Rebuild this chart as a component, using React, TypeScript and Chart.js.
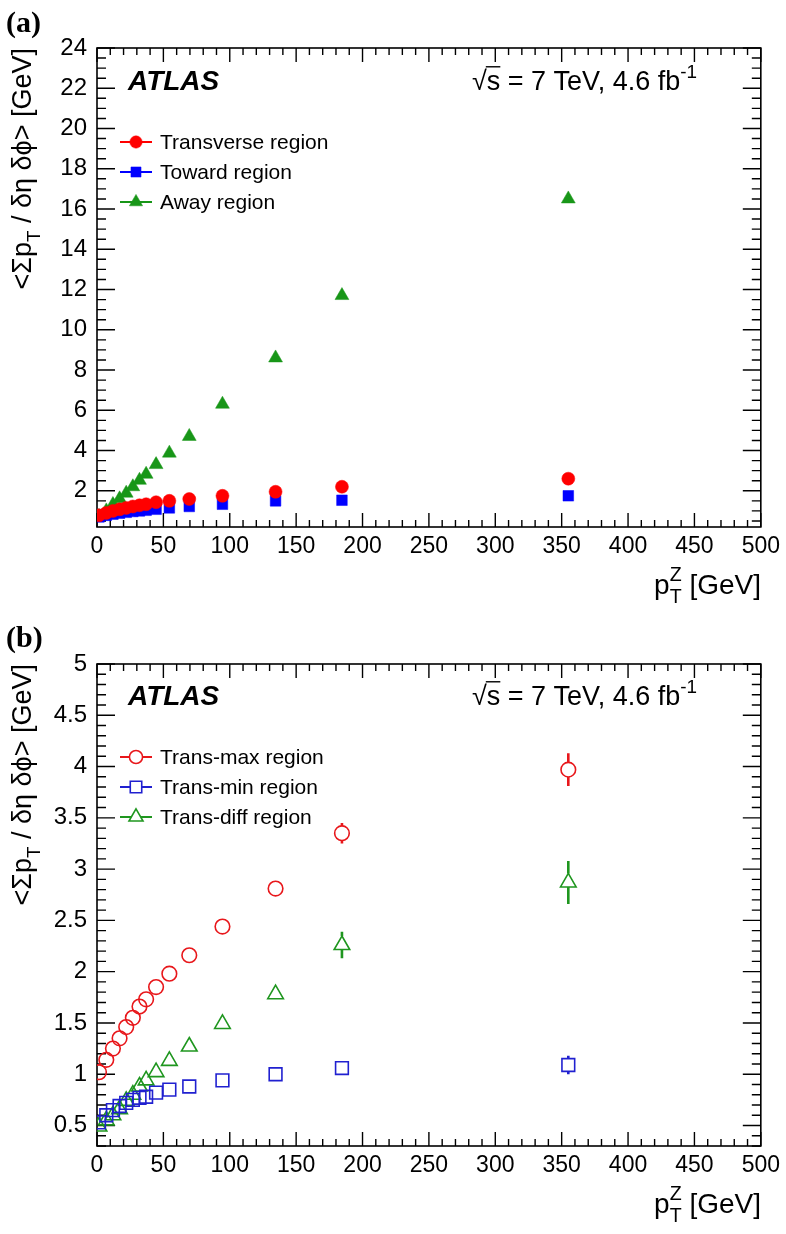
import React, { useEffect, useRef } from "react";
import { Chart, registerables } from "chart.js";
Chart.register(...registerables);

// ---------- data ----------
const pTZ = [1.5, 7, 12, 17, 22, 27, 32, 37, 44.5, 54.5, 69.5, 94.5, 134.5, 184.5, 355];

// panel (a)
const transverse = [0.78, 0.9, 1.0, 1.08, 1.15, 1.22, 1.28, 1.33, 1.43, 1.5, 1.59, 1.75, 1.95, 2.2, 2.6];
const toward = [0.7, 0.78, 0.84, 0.89, 0.93, 0.97, 1.0, 1.03, 1.08, 1.15, 1.22, 1.33, 1.5, 1.53, 1.75];
const away = [0.72, 1.0, 1.32, 1.6, 1.88, 2.2, 2.52, 2.82, 3.3, 3.87, 4.7, 6.3, 8.6, 11.7, 16.5];

// panel (b)
const transMax = [1.02, 1.14, 1.25, 1.35, 1.46, 1.55, 1.66, 1.73, 1.85, 1.98, 2.16, 2.44, 2.81, 3.35, 3.97];
const transMaxErr = [0, 0, 0, 0, 0, 0, 0, 0, 0, 0, 0, 0, 0.02, 0.1, 0.16];
const transMin = [0.53, 0.6, 0.65, 0.69, 0.72, 0.75, 0.77, 0.78, 0.82, 0.85, 0.88, 0.94, 1.0, 1.06, 1.09];
const transMinErr = [0, 0, 0, 0, 0, 0, 0, 0, 0, 0, 0, 0, 0.01, 0.03, 0.09];
const transDiff = [0.49, 0.55, 0.6, 0.66, 0.74, 0.8, 0.88, 0.94, 1.02, 1.13, 1.27, 1.49, 1.78, 2.26, 2.87];
const transDiffErr = [0, 0, 0, 0, 0, 0, 0, 0, 0, 0, 0, 0, 0.03, 0.13, 0.21];

// ticks
const xTickValues = [0, 50, 100, 150, 200, 250, 300, 350, 400, 450, 500];
const yTicksA = [2, 4, 6, 8, 10, 12, 14, 16, 18, 20, 22, 24];
const yTicksB = [0.5, 1, 1.5, 2, 2.5, 3, 3.5, 4, 4.5, 5];

const FONT = "'Liberation Sans', Arial, Helvetica, sans-serif";
const RED = "#ff0000";
const BLUE = "#0000ff";
const GREEN = "#189618";
const RED_O = "#e8171b";
const BLUE_O = "#2020d0";
const GREEN_O = "#1f961f";

type Seg = { t?: string; sub?: string; sup?: string; over?: boolean };

function segWidth(ctx: CanvasRenderingContext2D, segs: Seg[], size: number, style = "") {
  let w = 0;
  for (const s of segs) {
    if (s.t) {
      ctx.font = `${style}${size}px ${FONT}`;
      w += ctx.measureText(s.t).width;
    }
    if (s.sub || s.sup) {
      ctx.font = `${style}${size * 0.7}px ${FONT}`;
      w += Math.max(s.sub ? ctx.measureText(s.sub).width : 0, s.sup ? ctx.measureText(s.sup).width : 0);
    }
  }
  return w;
}

function drawSegs(ctx: CanvasRenderingContext2D, segs: Seg[], x: number, y: number, size: number, style = "") {
  let cx = x;
  ctx.textBaseline = "alphabetic";
  ctx.textAlign = "left";
  for (const s of segs) {
    if (s.t) {
      ctx.font = `${style}${size}px ${FONT}`;
      const w = ctx.measureText(s.t).width;
      ctx.fillText(s.t, cx, y);
      if (s.over) {
        ctx.save();
        ctx.lineWidth = 1.4;
        ctx.beginPath();
        ctx.moveTo(cx - 1, y - size * 0.86);
        ctx.lineTo(cx + w, y - size * 0.86);
        ctx.stroke();
        ctx.restore();
      }
      cx += w;
    }
    if (s.sub || s.sup) {
      const small = size * 0.7;
      ctx.font = `${style}${small}px ${FONT}`;
      let w = 0;
      if (s.sub) {
        ctx.fillText(s.sub, cx, y + size * 0.32);
        w = Math.max(w, ctx.measureText(s.sub).width);
      }
      if (s.sup) {
        ctx.fillText(s.sup, cx, y - size * 0.45);
        w = Math.max(w, ctx.measureText(s.sup).width);
      }
      cx += w;
    }
  }
}

function drawMarker(
  ctx: CanvasRenderingContext2D,
  style: string,
  x: number,
  y: number,
  r: number,
  fill: string | null,
  stroke: string,
  lw: number
) {
  ctx.beginPath();
  if (style === "circle") ctx.arc(x, y, r, 0, Math.PI * 2);
  else if (style === "rect") {
    const s = r * Math.SQRT1_2;
    ctx.rect(x - s, y - s, 2 * s, 2 * s);
  } else {
    const a = (2 * Math.PI) / 3;
    ctx.moveTo(x, y - r);
    ctx.lineTo(x + r * Math.sin(a), y - r * Math.cos(a));
    ctx.lineTo(x + r * Math.sin(2 * a), y - r * Math.cos(2 * a));
    ctx.closePath();
  }
  if (fill) {
    ctx.fillStyle = fill;
    ctx.fill();
  }
  ctx.lineWidth = lw;
  ctx.strokeStyle = stroke;
  ctx.stroke();
}

interface Series {
  label: string;
  values: number[];
  errors?: number[];
  style: string;
  r: number;
  filled: boolean;
  color: string;
}

interface Panel {
  tag: string;
  padTop: number;
  xAxisH: number;
  yMin: number;
  yMax: number;
  yTicks: number[];
  yMinor: number;
  yMajor: number;
  legendY: number[];
  textY: number;
  xTitleY: number;
  series: Series[];
}

const panelA: Panel = {
  tag: "(a)",
  padTop: 48,
  xAxisH: 90,
  yMin: 0.2,
  yMax: 24,
  yTicks: yTicksA,
  yMinor: 0.5,
  yMajor: 2,
  legendY: [142, 172, 202],
  textY: 90,
  xTitleY: 594,
  series: [
    { label: "Transverse region", values: transverse, style: "circle", r: 6.5, filled: true, color: RED },
    { label: "Toward region", values: toward, style: "rect", r: 7.5, filled: true, color: BLUE },
    { label: "Away region", values: away, style: "triangle", r: 8, filled: true, color: GREEN },
  ],
};

const panelB: Panel = {
  tag: "(b)",
  padTop: 47,
  xAxisH: 88,
  yMin: 0.3,
  yMax: 5,
  yTicks: yTicksB,
  yMinor: 0.1,
  yMajor: 0.5,
  legendY: [140, 170, 200],
  textY: 88,
  xTitleY: 596,
  series: [
    { label: "Trans-max region", values: transMax, errors: transMaxErr, style: "circle", r: 7.3, filled: false, color: RED_O },
    { label: "Trans-min region", values: transMin, errors: transMinErr, style: "rect", r: 9, filled: false, color: BLUE_O },
    { label: "Trans-diff region", values: transDiff, errors: transDiffErr, style: "triangle", r: 9, filled: false, color: GREEN_O },
  ],
};

function makeChart(canvas: HTMLCanvasElement, cfg: Panel) {
  const framePlugin = {
    id: "frameTicks",
    beforeDatasetsDraw(chart: any) {
      const { ctx, chartArea } = chart;
      const { left, right, top, bottom } = chartArea;
      const xs = chart.scales.x;
      const ys = chart.scales.y;
      ctx.save();
      ctx.strokeStyle = "#000";
      ctx.lineWidth = 1.6;
      ctx.strokeRect(left, top, right - left, bottom - top);
      ctx.lineWidth = 1.4;
      ctx.beginPath();
      for (let k = 0; k <= 50; k++) {
        const v = k * 10;
        const px = xs.getPixelForValue(v);
        const len = v % 50 === 0 ? 14 : 7;
        ctx.moveTo(px, bottom);
        ctx.lineTo(px, bottom - len);
        ctx.moveTo(px, top);
        ctx.lineTo(px, top + len);
      }
      const kStart = Math.ceil(cfg.yMin / cfg.yMinor - 1e-6);
      const kEnd = Math.floor(cfg.yMax / cfg.yMinor + 1e-6);
      for (let k = kStart; k <= kEnd; k++) {
        const v = k * cfg.yMinor;
        const ratio = v / cfg.yMajor;
        const major = Math.abs(ratio - Math.round(ratio)) < 1e-6;
        const py = ys.getPixelForValue(v);
        const len = major ? 18 : 9;
        ctx.moveTo(left, py);
        ctx.lineTo(left + len, py);
        ctx.moveTo(right, py);
        ctx.lineTo(right - len, py);
      }
      ctx.stroke();
      ctx.restore();
    },
  };

  const errorPlugin = {
    id: "errorBars",
    afterDatasetsDraw(chart: any) {
      const { ctx } = chart;
      const ys = chart.scales.y;
      chart.data.datasets.forEach((ds: any, i: number) => {
        if (!ds.errors) return;
        const meta = chart.getDatasetMeta(i);
        ds.errors.forEach((e: number, j: number) => {
          if (!e) return;
          const pt = meta.data[j];
          const v = ds.data[j].y;
          const yHi = ys.getPixelForValue(v + e);
          const yLo = ys.getPixelForValue(v - e);
          const r = ds.pointRadius;
          let gUp = r;
          let gDn = r;
          if (ds.pointStyle === "rect") {
            gUp = gDn = r * Math.SQRT1_2;
          } else if (ds.pointStyle === "triangle") {
            gUp = r;
            gDn = r * 0.5;
          }
          ctx.save();
          ctx.strokeStyle = ds.borderColor;
          ctx.lineWidth = 2.6;
          ctx.beginPath();
          if (pt.y - yHi > gUp) {
            ctx.moveTo(pt.x, yHi);
            ctx.lineTo(pt.x, pt.y - gUp);
          }
          if (yLo - pt.y > gDn) {
            ctx.moveTo(pt.x, pt.y + gDn);
            ctx.lineTo(pt.x, yLo);
          }
          ctx.stroke();
          ctx.restore();
        });
      });
    },
  };

  const textPlugin = {
    id: "texts",
    afterDraw(chart: any) {
      const { ctx, chartArea } = chart;
      ctx.save();
      ctx.fillStyle = "#000";
      ctx.strokeStyle = "#000";
      // panel tag
      ctx.font = "bold 30px 'Liberation Serif', 'Times New Roman', serif";
      ctx.textAlign = "left";
      ctx.textBaseline = "alphabetic";
      ctx.fillText(cfg.tag, 6, cfg.tag === "(a)" ? 32 : 30);
      // ATLAS
      ctx.font = `italic bold 28px ${FONT}`;
      ctx.fillText("ATLAS", 128, cfg.textY);
      // sqrt s
      const lumi: Seg[] = [{ t: "√" }, { t: "s", over: true }, { t: " = 7 TeV, 4.6 fb" }, { sup: "-1" }];
      drawSegs(ctx, lumi, 472, cfg.textY, 27);
      // legend
      chart.data.datasets.forEach((ds: any, i: number) => {
        const y = cfg.legendY[i];
        ctx.save();
        ctx.strokeStyle = ds.borderColor;
        ctx.lineWidth = 2;
        ctx.beginPath();
        ctx.moveTo(120, y);
        ctx.lineTo(152, y);
        ctx.stroke();
        const s = cfg.series[i];
        drawMarker(ctx, s.style, 136, y, s.filled ? s.r * 0.95 : s.r * 0.9, s.filled ? s.color : "#fff", s.color, s.filled ? 0.5 : 1.6);
        ctx.restore();
        ctx.fillStyle = "#000";
        ctx.font = `21px ${FONT}`;
        ctx.textBaseline = "middle";
        ctx.textAlign = "left";
        ctx.fillText(ds.label, 160, y + 1);
      });
      // x title
      const xt: Seg[] = [{ t: "p" }, { sub: "T", sup: "Z" }, { t: " [GeV]" }];
      const xw = segWidth(ctx, xt, 28);
      drawSegs(ctx, xt, 761 - xw, cfg.xTitleY, 28);
      // y title
      const yt: Seg[] = [{ t: "<Σp" }, { sub: "T" }, { t: " / δη δϕ> [GeV]" }];
      const yw = segWidth(ctx, yt, 27);
      ctx.translate(31, chartArea.top);
      ctx.rotate(-Math.PI / 2);
      drawSegs(ctx, yt, -yw, 0, 27);
      ctx.restore();
    },
  };

  return new Chart(canvas, {
    type: "scatter",
    data: {
      datasets: cfg.series.map((s) => ({
        label: s.label,
        data: pTZ.map((x, i) => ({ x, y: s.values[i] })),
        errors: s.errors,
        pointStyle: s.style,
        pointRadius: s.r,
        pointHoverRadius: s.r,
        backgroundColor: s.filled ? s.color : "rgba(0,0,0,0)",
        borderColor: s.color,
        borderWidth: s.filled ? 0.5 : 1.6,
        showLine: false,
      })) as any,
    },
    options: {
      responsive: false,
      animation: false,
      devicePixelRatio: 1,
      events: [],
      layout: { padding: { left: 0, right: 21, top: cfg.padTop, bottom: 0 } },
      plugins: { legend: { display: false }, tooltip: { enabled: false } },
      scales: {
        x: {
          type: "linear",
          min: 0,
          max: 500,
          afterBuildTicks: (s: any) => {
            s.ticks = xTickValues.map((v) => ({ value: v }));
          },
          afterFit: (s: any) => {
            s.height = cfg.xAxisH;
          },
          grid: { display: false, drawTicks: false },
          border: { display: false },
          ticks: {
            color: "#000",
            font: { family: FONT, size: 23 },
            padding: 6,
            maxRotation: 0,
            autoSkip: false,
            callback: (v: any) => String(v),
          },
        },
        y: {
          type: "linear",
          min: cfg.yMin,
          max: cfg.yMax,
          afterBuildTicks: (s: any) => {
            s.ticks = cfg.yTicks.map((v) => ({ value: v }));
          },
          afterFit: (s: any) => {
            s.width = 97;
          },
          grid: { display: false, drawTicks: false },
          border: { display: false },
          ticks: {
            color: "#000",
            font: { family: FONT, size: 24 },
            padding: 10,
            autoSkip: false,
            callback: (v: any) => String(v),
          },
        },
      },
    } as any,
    plugins: [framePlugin, errorPlugin, textPlugin],
  });
}

export default function App() {
  const refA = useRef<HTMLCanvasElement>(null);
  const refB = useRef<HTMLCanvasElement>(null);
  useEffect(() => {
    const a = makeChart(refA.current as HTMLCanvasElement, panelA);
    const b = makeChart(refB.current as HTMLCanvasElement, panelB);
    return () => {
      a.destroy();
      b.destroy();
    };
  }, []);
  return (
    <div style={{ position: "absolute", left: 0, top: 0, width: 786, height: 1234, background: "#fff" }}>
      <canvas ref={refA} width={786} height={617} style={{ display: "block", width: 786, height: 617 }} />
      <canvas ref={refB} width={786} height={617} style={{ display: "block", width: 786, height: 617 }} />
    </div>
  );
}
